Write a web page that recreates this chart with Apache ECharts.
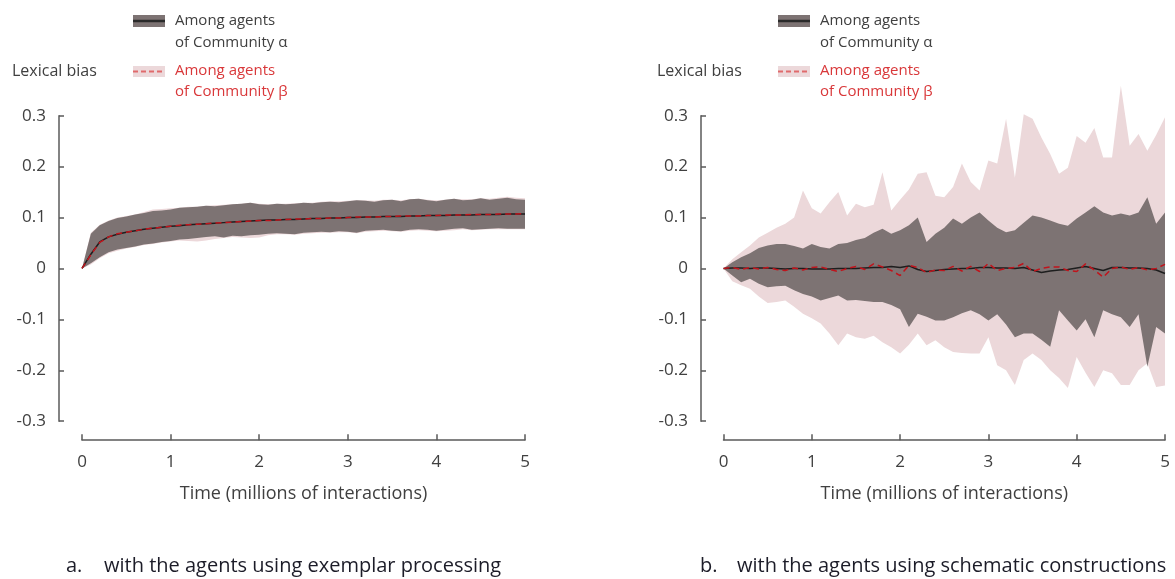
<!DOCTYPE html>
<html>
<head>
<meta charset="utf-8">
<script src="https://cdn.jsdelivr.net/npm/echarts@6/dist/echarts.min.js"></script>
<style>
html,body{margin:0;padding:0;background:#fff;}
#c{width:1175px;height:579px;}
</style>
</head>
<body>
<div id="c"></div>
<script>
// Time grid (millions of interactions)
const T = [0,0.1,0.2,0.3,0.4,0.5,0.6,0.7,0.8,0.9,1,1.1,1.2,1.3,1.4,1.5,1.6,1.7,1.8,1.9,2,2.1,2.2,2.3,2.4,2.5,2.6,2.7,2.8,2.9,3,3.1,3.2,3.3,3.4,3.5,3.6,3.7,3.8,3.9,4,4.1,4.2,4.3,4.4,4.5,4.6,4.7,4.8,4.9,5];
const xTicks = [0,1,2,3,4,5];
const yTicks = [-0.3,-0.2,-0.1,0,0.1,0.2,0.3];

// Panel a: exemplar processing
const leftMeanA = [0,0.028,0.052,0.062,0.067,0.071,0.074,0.077,0.079,0.081,0.083,0.084,0.086,0.087,0.088,0.089,0.090,0.091,0.092,0.093,0.094,0.095,0.095,0.096,0.096,0.097,0.098,0.098,0.099,0.099,0.100,0.100,0.101,0.101,0.102,0.102,0.102,0.103,0.103,0.104,0.104,0.104,0.105,0.105,0.105,0.106,0.106,0.106,0.107,0.107,0.107];
const leftMeanB = [0,0.027,0.051,0.062,0.068,0.071,0.074,0.077,0.079,0.081,0.083,0.085,0.086,0.087,0.088,0.089,0.090,0.091,0.092,0.093,0.094,0.094,0.095,0.096,0.097,0.097,0.098,0.098,0.099,0.099,0.100,0.101,0.101,0.101,0.102,0.102,0.103,0.103,0.103,0.104,0.104,0.105,0.105,0.105,0.106,0.106,0.106,0.107,0.107,0.107,0.108];
const leftUpperA = [0,0.068,0.085,0.093,0.099,0.102,0.106,0.109,0.113,0.114,0.116,0.119,0.120,0.121,0.123,0.122,0.124,0.126,0.127,0.129,0.126,0.125,0.127,0.126,0.127,0.129,0.128,0.130,0.131,0.130,0.132,0.134,0.133,0.131,0.134,0.135,0.132,0.136,0.137,0.134,0.132,0.135,0.137,0.134,0.135,0.138,0.135,0.137,0.139,0.136,0.135];
const leftLowerA = [0,0.010,0.022,0.032,0.037,0.040,0.043,0.047,0.049,0.052,0.054,0.057,0.058,0.060,0.062,0.063,0.061,0.064,0.063,0.065,0.066,0.068,0.069,0.068,0.067,0.070,0.071,0.072,0.071,0.073,0.072,0.070,0.074,0.075,0.076,0.074,0.073,0.076,0.077,0.076,0.074,0.076,0.078,0.079,0.076,0.077,0.078,0.079,0.078,0.078,0.078];
const leftUpperB = [0,0.070,0.086,0.094,0.100,0.103,0.106,0.111,0.116,0.117,0.118,0.119,0.121,0.121,0.123,0.124,0.125,0.126,0.127,0.129,0.127,0.126,0.127,0.127,0.128,0.129,0.129,0.131,0.132,0.132,0.133,0.134,0.134,0.133,0.135,0.135,0.134,0.136,0.137,0.135,0.134,0.135,0.137,0.136,0.136,0.138,0.137,0.139,0.141,0.139,0.138];
const leftLowerB = [0,0.008,0.020,0.030,0.035,0.039,0.042,0.046,0.048,0.051,0.053,0.055,0.054,0.053,0.055,0.058,0.060,0.062,0.061,0.060,0.061,0.065,0.067,0.067,0.066,0.068,0.069,0.070,0.070,0.071,0.071,0.069,0.072,0.073,0.074,0.073,0.072,0.074,0.075,0.074,0.073,0.074,0.075,0.077,0.075,0.076,0.077,0.077,0.077,0.077,0.077];

// Panel b: schematic constructions
const rightMeanA = [0,0.001,0.001,0,0.001,0.001,0,-0.001,0,0,-0.001,-0.001,-0.001,0,0,0,0.001,0.002,0.002,0.004,0.002,0.005,-0.002,-0.006,-0.004,-0.002,-0.001,0,0,0.002,0.002,0.001,0.001,0,0.002,-0.003,-0.008,-0.005,-0.003,-0.002,0.001,0.004,0,-0.004,0.002,0.002,0.001,0.001,0,-0.003,-0.010];
const rightMeanB = [0,0.002,-0.002,0.002,-0.001,0.002,-0.002,-0.004,0.001,-0.003,0.002,0.003,-0.002,-0.006,0,0.004,-0.002,0.009,0.003,-0.004,-0.014,0.006,0.002,-0.008,-0.003,-0.004,0.004,-0.005,0.004,-0.006,0.010,-0.004,0,0.002,0.010,-0.006,0,0.003,0.003,-0.004,-0.006,0.009,-0.003,-0.017,0,0.003,-0.002,0.002,-0.003,0,0.008];
const rightUpperA = [0,0.012,0.022,0.030,0.040,0.045,0.048,0.048,0.044,0.039,0.048,0.042,0.039,0.048,0.050,0.056,0.060,0.070,0.078,0.068,0.075,0.085,0.100,0.052,0.068,0.080,0.098,0.088,0.100,0.110,0.094,0.080,0.071,0.075,0.090,0.104,0.100,0.094,0.088,0.084,0.098,0.110,0.122,0.110,0.104,0.108,0.104,0.110,0.140,0.088,0.110];
const rightLowerA = [0,-0.014,-0.027,-0.020,-0.030,-0.037,-0.035,-0.034,-0.043,-0.050,-0.055,-0.063,-0.058,-0.053,-0.063,-0.062,-0.064,-0.066,-0.066,-0.072,-0.080,-0.115,-0.089,-0.095,-0.102,-0.102,-0.096,-0.088,-0.082,-0.090,-0.102,-0.090,-0.110,-0.135,-0.128,-0.128,-0.140,-0.154,-0.082,-0.102,-0.122,-0.100,-0.135,-0.082,-0.090,-0.096,-0.115,-0.090,-0.193,-0.115,-0.128];
const rightUpperB = [0,0.018,0.032,0.045,0.061,0.070,0.080,0.088,0.100,0.153,0.118,0.108,0.130,0.150,0.104,0.127,0.120,0.125,0.189,0.114,0.135,0.155,0.186,0.189,0.143,0.140,0.160,0.206,0.170,0.153,0.212,0.206,0.294,0.178,0.303,0.294,0.257,0.225,0.186,0.198,0.260,0.247,0.276,0.218,0.218,0.359,0.241,0.264,0.231,0.262,0.297];
const rightLowerB = [0,-0.025,-0.033,-0.040,-0.055,-0.068,-0.066,-0.063,-0.075,-0.089,-0.098,-0.108,-0.128,-0.151,-0.128,-0.135,-0.138,-0.132,-0.145,-0.155,-0.167,-0.150,-0.128,-0.151,-0.141,-0.155,-0.164,-0.166,-0.167,-0.167,-0.135,-0.190,-0.200,-0.229,-0.180,-0.167,-0.180,-0.200,-0.215,-0.235,-0.174,-0.205,-0.233,-0.200,-0.206,-0.229,-0.229,-0.200,-0.186,-0.233,-0.230];

const FONT = '"Open Sans", Lato, sans-serif';
const TXT = '#404040';
const GRAY_BAND = '#7d7373';
const PINK_BAND = '#ecd8da';
const RED = '#c0141c';

function pairs(arr) { return T.map((t, i) => [t, arr[i]]); }

// Band drawn as one polygon through the axes' own coordinate conversion
function band(idx, lo, hi, color) {
  return {
    type: 'custom', xAxisIndex: idx, yAxisIndex: idx, silent: true, clip: false,
    data: [[0, 0]],
    renderItem: function (params, api) {
      const pts = [];
      for (let i = 0; i < T.length; i++) pts.push(api.coord([T[i], hi[i]]));
      for (let i = T.length - 1; i >= 0; i--) pts.push(api.coord([T[i], lo[i]]));
      return { type: 'polygon', shape: { points: pts }, style: { fill: color, stroke: null } };
    }
  };
}
function meanLine(idx, arr, color, dashed) {
  return { type: 'line', xAxisIndex: idx, yAxisIndex: idx, data: pairs(arr), symbol: 'none', silent: true,
    lineStyle: { color: color, width: 1.5, type: dashed ? [6, 4] : 'solid' } };
}

function xAxisCfg(idx) {
  return {
    gridIndex: idx, type: 'value', min: 0, max: 5, interval: 1, position: 'bottom', offset: 19,
    axisLine: { show: true, onZero: false, lineStyle: { color: '#5a5a5a', width: 1.5 } },
    axisTick: { show: true, inside: true, length: 6, lineStyle: { color: '#5a5a5a', width: 1.5 } },
    axisLabel: { margin: 13, fontSize: 17, color: TXT, fontFamily: FONT,
      formatter: v => xTicks.indexOf(v) >= 0 ? String(v) : '' },
    splitLine: { show: false },
    name: 'Time (millions of interactions)', nameLocation: 'middle', nameGap: 45,
    nameTextStyle: { fontSize: 18, color: TXT, fontFamily: FONT }
  };
}
function yAxisCfg(idx, off) {
  return {
    gridIndex: idx, type: 'value', min: -0.3, max: 0.3, interval: 0.1, position: 'left', offset: off,
    axisLine: { show: true, onZero: false, lineStyle: { color: '#5a5a5a', width: 1.5 } },
    axisTick: { show: true, inside: true, length: 5, lineStyle: { color: '#5a5a5a', width: 1.5 } },
    axisLabel: { margin: 13, fontSize: 17, color: TXT, fontFamily: FONT,
      formatter: v => { const r = Math.round(v * 10) / 10; return r === 0 ? '0' : String(r); } },
    splitLine: { show: false }
  };
}

function legendGraphics(ox) {
  const g = [];
  g.push({ type: 'text', left: 12 + ox, top: 63, style: { text: 'Lexical bias', fontSize: 16, fill: TXT, fontFamily: FONT } });
  g.push({ type: 'rect', shape: { x: 133 + ox, y: 15, width: 32, height: 12 }, style: { fill: GRAY_BAND } });
  g.push({ type: 'line', shape: { x1: 133 + ox, y1: 21, x2: 165 + ox, y2: 21 }, style: { stroke: '#2a2a2a', lineWidth: 2.5 } });
  g.push({ type: 'text', left: 175 + ox, top: 13, style: { text: 'Among agents', fontSize: 15, fill: TXT, fontFamily: FONT } });
  g.push({ type: 'text', left: 175 + ox, top: 35.5, style: { text: 'of Community α', fontSize: 15, fill: TXT, fontFamily: FONT } });
  g.push({ type: 'rect', shape: { x: 133 + ox, y: 66, width: 32, height: 11 }, style: { fill: PINK_BAND } });
  g.push({ type: 'line', shape: { x1: 133 + ox, y1: 71.5, x2: 165 + ox, y2: 71.5 }, style: { stroke: '#e06a6c', lineWidth: 2, lineDash: [5, 3] } });
  g.push({ type: 'text', left: 175 + ox, top: 63.5, style: { text: 'Among agents', fontSize: 15, fill: '#d9383a', fontFamily: FONT } });
  g.push({ type: 'text', left: 175 + ox, top: 84.5, style: { text: 'of Community β', fontSize: 15, fill: '#d9383a', fontFamily: FONT } });
  return g;
}

const graphics = [].concat(
  legendGraphics(0),
  legendGraphics(645),
  [
    { type: 'text', left: 66, top: 556, style: { text: 'a.', fontSize: 20, fill: '#1c1c28', fontFamily: FONT } },
    { type: 'text', left: 104, top: 556, style: { text: 'with the agents using exemplar processing', fontSize: 20, fill: '#1c1c28', fontFamily: FONT } },
    { type: 'text', left: 700, top: 556, style: { text: 'b.', fontSize: 20, fill: '#1c1c28', fontFamily: FONT } },
    { type: 'text', left: 737, top: 556, style: { text: 'with the agents using schematic constructions', fontSize: 20, fill: '#1c1c28', fontFamily: FONT } }
  ]
);

const option = {
  animation: false,
  backgroundColor: '#ffffff',
  textStyle: { fontFamily: FONT },
  grid: [
    { left: 82, top: 115.7, width: 443, height: 305.5 },
    { left: 723.5, top: 115.7, width: 441.5, height: 305.5 }
  ],
  xAxis: [xAxisCfg(0), xAxisCfg(1)],
  yAxis: [yAxisCfg(0, 23), yAxisCfg(1, 22.5)],
  series: [
    band(0, leftLowerB, leftUpperB, PINK_BAND),
    band(0, leftLowerA, leftUpperA, GRAY_BAND),
    meanLine(0, leftMeanA, '#1e1e1e', false),
    meanLine(0, leftMeanB, RED, true),
    band(1, rightLowerB, rightUpperB, PINK_BAND),
    band(1, rightLowerA, rightUpperA, GRAY_BAND),
    meanLine(1, rightMeanA, '#1e1e1e', false),
    meanLine(1, rightMeanB, RED, true)
  ],
  graphic: graphics
};

const chart = echarts.init(document.getElementById('c'), null, { renderer: 'canvas' });
chart.setOption(option);
</script>
</body>
</html>
